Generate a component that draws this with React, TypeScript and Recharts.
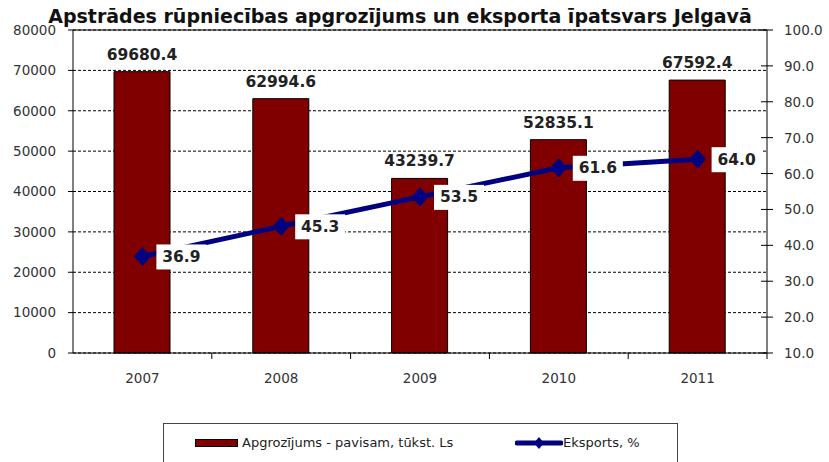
import React from 'react';
import {
  ComposedChart, Bar, Line, XAxis, YAxis, CartesianGrid, LabelList, ReferenceLine,
} from 'recharts';

const years = ['2007', '2008', '2009', '2010', '2011'];
const turnover = [69680.4, 62994.6, 43239.7, 52835.1, 67592.4];
const exportShare = [36.9, 45.3, 53.5, 61.6, 64.0];
const leftTicks = [0, 10000, 20000, 30000, 40000, 50000, 60000, 70000, 80000];
const rightTicks = [10, 20, 30, 40, 50, 60, 70, 80, 90, 100];

const title = 'Apstrādes rūpniecības apgrozījums un eksporta īpatsvars Jelgavā';
const barName = 'Apgrozījums - pavisam, tūkst. Ls';
const lineName = 'Eksports, %';

const data = years.map((y, i) => ({ year: y, turnover: turnover[i], exports: exportShare[i] }));

const W = 829;
const H = 462;
const LEFT_W = 73;
const RIGHT_W = 62;
const TOP = 30;
const XAXIS_H = 109;
const band = (W - LEFT_W - RIGHT_W) / years.length;
const FONT = '"DejaVu Sans", Verdana, sans-serif';
const BAR_COLOR = '#800000';
const LINE_COLOR = '#000080';
const TICK_FS = 13.5;

const XTick = (props: any) => {
  const { x, y, payload } = props;
  return (
    <g>
      <line x1={x + band / 2} y1={y} x2={x + band / 2} y2={y + 6} stroke="#000" />
      <text x={x} y={y + 30} textAnchor="middle" fontSize={TICK_FS} fill="#333" fontFamily={FONT}>
        {payload.value}
      </text>
    </g>
  );
};

const RightTick = (props: any) => {
  const { x, y, payload } = props;
  return (
    <g>
      <line x1={x - 23} y1={y} x2={x - 11} y2={y} stroke="#000" />
      <text x={x} y={y} dy={5} textAnchor="start" fontSize={TICK_FS} fill="#333" fontFamily={FONT}>
        {Number(payload.value).toFixed(1)}
      </text>
    </g>
  );
};

const Diamond = (props: any) => {
  const { cx, cy } = props;
  if (cx == null || cy == null) return null;
  return (
    <polygon
      points={`${cx},${cy - 9} ${cx + 8},${cy} ${cx},${cy + 9} ${cx - 8},${cy}`}
      fill={LINE_COLOR}
      stroke={LINE_COLOR}
    />
  );
};

const LineLabel = (props: any) => {
  const { x, y, value } = props;
  return (
    <g>
      <rect x={x + 14} y={y - 12} width={50} height={25} fill="#fff" />
      <text x={x + 39} y={y} dy={5.5} textAnchor="middle" fontSize={15.5} fontWeight="bold" fill="#222" fontFamily={FONT}>
        {Number(value).toFixed(1)}
      </text>
    </g>
  );
};

export default function App() {
  return (
    <div style={{ position: 'absolute', left: 0, top: 0, width: W, height: H, background: '#fff', fontFamily: FONT }}>
      <div
        style={{
          position: 'absolute', left: 0, top: 5, width: 800, textAlign: 'center',
          fontSize: 19, fontWeight: 'bold', color: '#111', fontFamily: FONT, zIndex: 2, lineHeight: '22px',
        }}
      >
        {title}
      </div>
      <ComposedChart
        width={W}
        height={H}
        data={data}
        margin={{ top: TOP, right: 0, bottom: 0, left: 0 }}
        style={{ fontFamily: FONT }}
      >
        <CartesianGrid yAxisId="left" horizontal vertical={false} stroke="#000" strokeDasharray="3 2" />
        <XAxis
          dataKey="year"
          height={XAXIS_H}
          tickSize={0}
          tickMargin={0}
          tickLine={false}
          axisLine={{ stroke: '#000' }}
          tick={<XTick />}
          interval={0}
        />
        <YAxis
          yAxisId="left"
          orientation="left"
          width={LEFT_W}
          domain={[0, 80000]}
          ticks={leftTicks}
          interval={0}
          tickSize={5}
          tickMargin={12}
          axisLine={{ stroke: '#000' }}
          tickLine={{ stroke: '#000' }}
          tick={{ fontSize: TICK_FS, fill: '#333', fontFamily: FONT }}
        />
        <YAxis
          yAxisId="right"
          orientation="right"
          width={RIGHT_W}
          domain={[10, 100]}
          ticks={rightTicks}
          interval={0}
          tickSize={5}
          tickMargin={12}
          axisLine={{ stroke: '#000' }}
          tickLine={false}
          tick={<RightTick />}
        />
        <ReferenceLine yAxisId="left" y={80000} stroke="#000" />
        <Bar
          yAxisId="left"
          dataKey="turnover"
          name={barName}
          fill={BAR_COLOR}
          stroke="#000"
          strokeWidth={1}
          barSize={56}
          isAnimationActive={false}
        >
          <LabelList
            dataKey="turnover"
            position="top"
            offset={12}
            formatter={(v: any) => Number(v).toFixed(1)}
            style={{ fontSize: 15.5, fontWeight: 'bold', fill: '#222', fontFamily: FONT }}
          />
        </Bar>
        <Line
          yAxisId="right"
          dataKey="exports"
          name={lineName}
          stroke={LINE_COLOR}
          strokeWidth={5}
          dot={<Diamond />}
          activeDot={false}
          isAnimationActive={false}
        >
          <LabelList dataKey="exports" content={<LineLabel />} />
        </Line>
      </ComposedChart>
      <div
        style={{
          position: 'absolute', left: 163, top: 423, width: 515, height: 60,
          border: '1px solid #444', boxSizing: 'border-box', fontFamily: FONT, fontSize: 13, color: '#222',
        }}
      >
        <div style={{ position: 'absolute', left: 31, top: 15, width: 43, height: 8, background: BAR_COLOR, border: '1px solid #000', boxSizing: 'border-box' }} />
        <div style={{ position: 'absolute', left: 78, top: 10, lineHeight: '18px', whiteSpace: 'nowrap' }}>{barName}</div>
        <svg style={{ position: 'absolute', left: 351, top: 12 }} width={48} height={14}>
          <line x1={2} y1={7} x2={46} y2={7} stroke={LINE_COLOR} strokeWidth={5} strokeLinecap="round" />
          <polygon points="24,1 29,7 24,13 19,7" fill={LINE_COLOR} />
        </svg>
        <div style={{ position: 'absolute', left: 399, top: 10, lineHeight: '18px', whiteSpace: 'nowrap' }}>{lineName}</div>
      </div>
    </div>
  );
}
